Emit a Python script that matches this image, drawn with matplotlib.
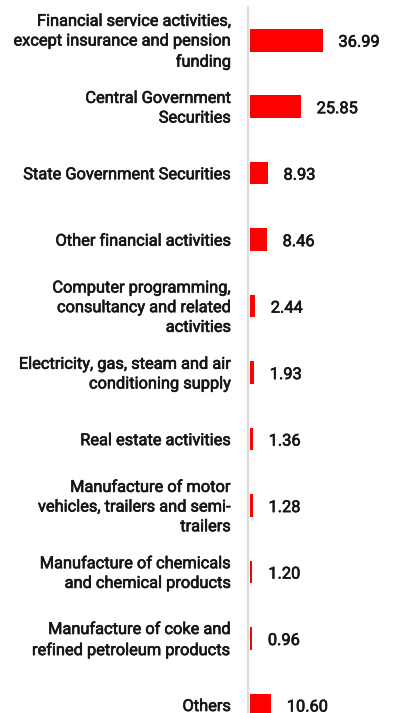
import matplotlib
matplotlib.use("Agg")
import matplotlib.pyplot as plt
import matplotlib.patheffects as pe

categories = [
    "Financial service activities,\nexcept insurance and pension\nfunding",
    "Central Government\nSecurities",
    "State Government Securities",
    "Other financial activities",
    "Computer programming,\nconsultancy and related\nactivities",
    "Electricity, gas, steam and air\nconditioning supply",
    "Real estate activities",
    "Manufacture of motor\nvehicles, trailers and semi-\ntrailers",
    "Manufacture of chemicals\nand chemical products",
    "Manufacture of coke and\nrefined petroleum products",
    "Others",
]
values = [36.99, 25.85, 8.93, 8.46, 2.44, 1.93, 1.36, 1.28, 1.20, 0.96, 10.60]
value_labels = ["36.99", "25.85", "8.93", "8.46", "2.44", "1.93", "1.36", "1.28", "1.20", "0.96", "10.60"]

W, H = 393, 713
fig = plt.figure(figsize=(W / 100, H / 100), dpi=100)
left_px, top_px = 250, 7
ax = fig.add_axes([left_px / W, 0, 1 - left_px / W, 1 - top_px / H])

pos = list(range(len(values)))
ax.barh(pos, values, height=0.34, color="#ff0000", zorder=3)
ax.set_xlim(0, (W - left_px) / 1.96)
ax.set_ylim((H - 40) / 66.5, -0.5)

txt_color = "#161616"
font = dict(family=["Roboto", "DejaVu Sans"], fontweight="normal", fontsize=11.8, color=txt_color,
            path_effects=[pe.withStroke(linewidth=0.45, foreground=txt_color)])
for i, (v, lab) in enumerate(zip(values, value_labels)):
    ax.annotate(lab, (v, i), xytext=(16, -2), textcoords="offset pixels",
                va="center", ha="left", **font)
    ax.annotate(categories[i], (0, i), xycoords=("axes fraction", "data"), xytext=(-19, -1.5),
                textcoords="offset pixels", va="center", ha="right", ma="right",
                linespacing=1.39, **font)

for s in ["top", "right", "bottom"]:
    ax.spines[s].set_visible(False)
ax.spines["left"].set_color("#dcdcdc")
ax.spines["left"].set_linewidth(1.6)
ax.spines["left"].set_position(("outward", 1.5))
ax.set_xticks([])
ax.set_yticks([])
ax.patch.set_alpha(0)
fig.savefig("out.png", dpi=100)
